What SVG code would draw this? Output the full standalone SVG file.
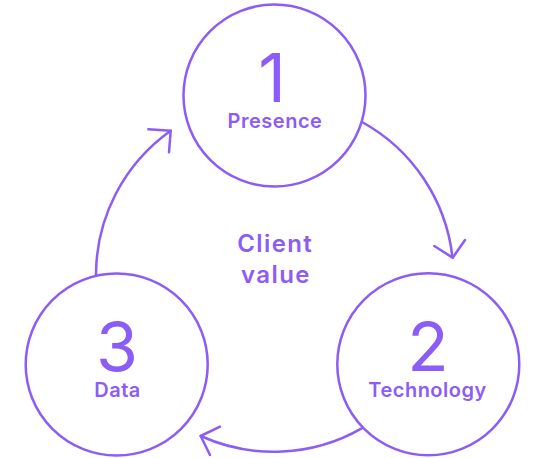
<svg xmlns="http://www.w3.org/2000/svg" width="534" height="458" viewBox="0 0 534 458">
<style>
.ring{fill:none;stroke:#8B5CF6;stroke-width:2.5}
.t{font-family:Inter,"Liberation Sans",sans-serif;fill:#8B5CF6;text-anchor:middle}
.num{font-weight:400;font-size:68px;letter-spacing:0}
.lbl{font-weight:600;font-size:20px;letter-spacing:0.5px}
.ctr{font-family:Inter,"Liberation Sans",sans-serif;font-weight:600;font-size:24px;fill:#8B5CF6;text-anchor:middle;letter-spacing:1.4px}
.arc{fill:none;stroke:#8B5CF6;stroke-width:2.5;stroke-linecap:round;stroke-linejoin:round}
</style>
<rect width="534" height="458" fill="#ffffff"/>
<g id="connectors">
<path class="arc" d="M 362 122 A 177 177 0 0 1 452.5 257.5"/>
<polyline class="arc" points="434.3,246 452.7,257.7 465,240"/>
<path class="arc" d="M 361.7 428.3 A 177 177 0 0 1 200.7 436"/>
<polyline class="arc" points="220,426.7 200.7,436 210,455"/>
<path class="arc" d="M 96 275 A 177 177 0 0 1 170.7 130.7"/>
<polyline class="arc" points="148.3,129.3 170.7,130.7 169,152.3"/>
</g>
<g id="node1">
<circle class="ring" cx="274.5" cy="95.5" r="91"/>
<text class="t"><tspan class="num" x="272" y="101.6">1</tspan><tspan class="lbl" x="275" y="127.7">Presence</tspan></text>
</g>
<g id="node2">
<circle class="ring" cx="428.3" cy="364.2" r="91"/>
<text class="t"><tspan class="num" x="428" y="370.7">2</tspan><tspan class="lbl" x="427.5" y="397.3">Technology</tspan></text>
</g>
<g id="node3">
<circle class="ring" cx="116.7" cy="364.5" r="91"/>
<text class="t"><tspan class="num" x="117" y="370.7">3</tspan><tspan class="lbl" x="117.5" y="396.7">Data</tspan></text>
</g>
<g id="center">
<text class="ctr" x="275.2" y="251.7">Client</text>
<text class="ctr" x="276" y="283.3">value</text>
</g>
</svg>
